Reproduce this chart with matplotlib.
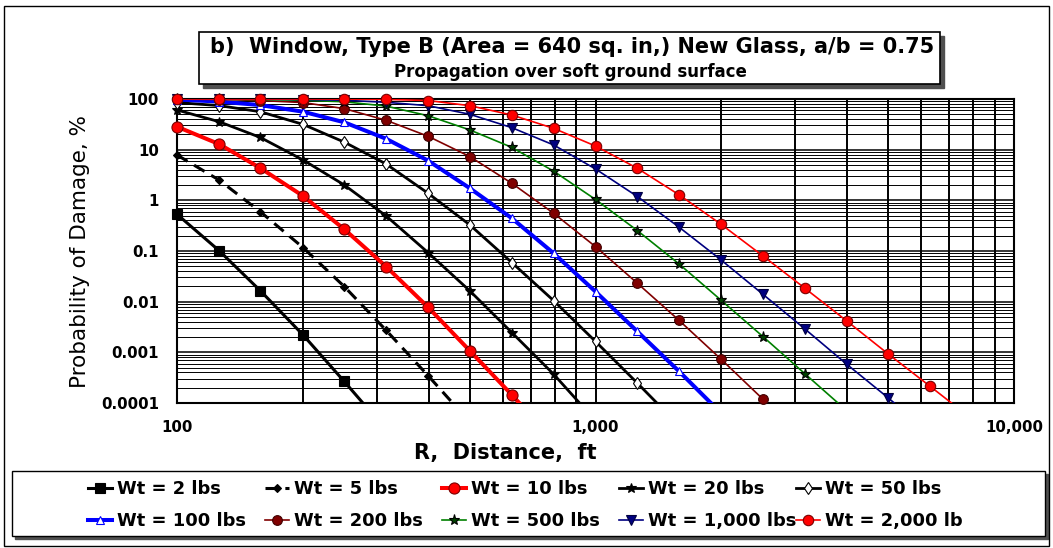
import matplotlib.pyplot as plt
from matplotlib.patches import Rectangle
from matplotlib.ticker import FixedLocator, LogLocator, NullFormatter, FixedFormatter
import numpy as np

plt.rcParams['font.family'] = ['DejaVu Sans']

# distances (ft) at which the curves are marked
dist = [100, 126, 158, 200, 251, 316, 398, 501, 631, 794, 1000,
        1259, 1585, 1995, 2512, 3162, 3981, 5012, 6310, 7943]

# probability of damage (%), one list per charge weight
p_2 = [0.531, 0.102, 0.0166, 0.00221, 0.000266, 0.0000295]
p_5 = [7.85, 2.52, 0.60, 0.117, 0.0199, 0.00272, 0.000347, 0.0000417]
p_10 = [28.4, 12.9, 4.36, 1.22, 0.269, 0.0493, 0.00778, 0.00107, 0.000145,
        0.0000182]
p_20 = [60.7, 35.7, 17.5, 6.27, 2.01, 0.492, 0.0931, 0.0163, 0.00246,
        0.000371, 0.0000447]
p_50 = [85.1, 74.1, 56.2, 31.6, 14.1, 5.22, 1.38, 0.327, 0.0592, 0.0105,
        0.00164, 0.000247, 0.0000355]
p_100 = [97.7, 89.1, 75.9, 56.2, 34.7, 16.4, 6.08, 1.73, 0.443, 0.0904,
         0.0158, 0.00258, 0.000419, 0.0000631]
p_200 = [99.5, 97.7, 93.3, 85.1, 64.6, 38.0, 18.4, 7.29, 2.17, 0.556, 0.122,
         0.0231, 0.00425, 0.000733, 0.000119, 0.0000178]
p_500 = [99.9, 99.5, 97.7, 94.4, 88.1, 72.4, 46.8, 24.5, 11.1, 3.77, 1.04,
         0.253, 0.0552, 0.0107, 0.00205, 0.00038, 0.0000708]
p_1000 = [99.9, 99.9, 99.5, 97.7, 94.4, 86.1, 73.8, 49.9, 27.2, 12.4, 4.16,
          1.19, 0.294, 0.0667, 0.014, 0.00291, 0.000585, 0.000125, 0.0000251]
p_2000 = [100, 100, 100, 100, 99.5, 98.4, 93.3, 73.8, 48.3, 26.4, 11.8, 4.29,
          1.28, 0.337, 0.08, 0.0185, 0.00418, 0.00092, 0.000212, 0.0000479]

labels = ['Wt = 2 lbs', 'Wt = 5 lbs', 'Wt = 10 lbs', 'Wt = 20 lbs', 'Wt = 50 lbs',
          'Wt = 100 lbs', 'Wt = 200 lbs', 'Wt = 500 lbs', 'Wt = 1,000 lbs',
          'Wt = 2,000 lb']
series = [p_2, p_5, p_10, p_20, p_50, p_100, p_200, p_500, p_1000, p_2000]

# color, linewidth, dashes, marker, markersize, face, edge
styles = [
    ('black', 2.2, None, 's', 7, 'black', 'black'),
    ('black', 2.2, (4, 2.5), 'D', 4.5, 'black', 'black'),
    ('#ff0000', 2.9, None, 'o', 8, '#ff0000', '#7a0000'),
    ('black', 2.0, None, '*', 7, 'black', 'black'),
    ('black', 2.0, None, 'd', 6, 'white', 'black'),
    ('#0000ff', 2.9, None, '^', 6, 'white', '#0000ff'),
    ('#800000', 1.2, None, 'o', 7, '#800000', '#400000'),
    ('#008000', 1.2, None, '*', 8, '#004000', 'black'),
    ('#000080', 1.2, None, 'v', 7, '#000080', '#000040'),
    ('#ff0000', 1.2, None, 'o', 7.5, '#ff0000', '#7a0000'),
]

fig = plt.figure(figsize=(10.53, 5.48), dpi=100)
ax = fig.add_axes([177/1053, 1-403/548, (1014-177)/1053, (403-99)/548])

ax.set_xscale('log')
ax.set_yscale('log')
ax.set_xlim(100, 10000)
ax.set_ylim(0.0001, 100)

handles = []
for p, lab, st in zip(series, labels, styles):
    col, lw, dsh, mk, ms, mfc, mec = st
    x = np.array(dist[:len(p)])
    y = np.array(p)
    ln, = ax.plot(x, y, color=col, lw=lw, zorder=3)
    if dsh is not None:
        ln.set_dashes(dsh)
    keep = y >= 0.0001
    mk_ln, = ax.plot(x[keep], y[keep], ls='none', marker=mk, ms=ms,
                     mfc=mfc, mec=mec, mew=0.8, zorder=4, clip_on=False)
    handles.append((ln, mk_ln))

# grid
ax.xaxis.set_major_locator(FixedLocator([100, 1000, 10000]))
ax.xaxis.set_major_formatter(FixedFormatter(['100', '1,000', '10,000']))
ax.xaxis.set_minor_locator(LogLocator(base=10, subs=np.arange(2, 10)))
ax.xaxis.set_minor_formatter(NullFormatter())
ax.yaxis.set_major_locator(FixedLocator([0.0001, 0.001, 0.01, 0.1, 1, 10, 100]))
ax.yaxis.set_major_formatter(FixedFormatter(['0.0001', '0.001', '0.01', '0.1',
                                             '1', '10', '100']))
ax.yaxis.set_minor_locator(LogLocator(base=10, subs=np.arange(2, 10)))
ax.yaxis.set_minor_formatter(NullFormatter())
ax.grid(True, which='both', axis='x', color='black', lw=1.4, zorder=1)
ax.grid(True, which='major', axis='y', color='black', lw=1.1, zorder=1)
ax.grid(True, which='minor', axis='y', color='black', lw=0.7, zorder=1)
ax.tick_params(which='both', length=0)
ax.tick_params(axis='x', pad=12)
ax.tick_params(axis='y', pad=13)
for t in ax.get_xticklabels() + ax.get_yticklabels():
    t.set_fontsize(10.8)
    t.set_fontweight('bold')
for s in ax.spines.values():
    s.set_linewidth(1.5)

ax.set_xlabel('R,  Distance,  ft', fontsize=15, fontweight='bold')
ax.xaxis.set_label_coords((505-177)/837, -0.13)
ax.set_ylabel('Probability of Damage, %', fontsize=15.5, labelpad=8)

# title box with shadow
fig.patches.append(Rectangle((203/1053, 1-88/548), 741/1053, 52/548,
                             transform=fig.transFigure, color='#505050', zorder=0))
fig.patches.append(Rectangle((199/1053, 1-84/548), 741/1053, 52/548,
                             transform=fig.transFigure, fc='white', ec='black',
                             lw=1.2, zorder=1))
fig.text(572/1053, 1-47/548, 'b)  Window, Type B (Area = 640 sq. in,) New Glass, a/b = 0.75',
         ha='center', va='center', fontsize=15, fontweight='bold')
fig.text(570/1053, 1-72/548, 'Propagation over soft ground surface',
         ha='center', va='center', fontsize=12, fontweight='bold')

# outer border
fig.patches.append(Rectangle((4/1053, 2/548), 1045/1053, 540/548,
                             transform=fig.transFigure, fill=False, ec='black',
                             lw=1.0))

# legend box with shadow
fig.patches.append(Rectangle((15/1053, 1-539/548), 1033/1053, 65/548,
                             transform=fig.transFigure, color='#505050', zorder=0))
fig.patches.append(Rectangle((12/1053, 1-536/548), 1033/1053, 65/548,
                             transform=fig.transFigure, fc='white', ec='black',
                             lw=1.0, zorder=1))

for i in range(5):
    fig.legend(handles=[handles[i], handles[i + 5]],
               labels=[labels[i], labels[i + 5]],
               loc='upper left', bbox_to_anchor=((88 + 177*i)/1053, 1-480/548),
               frameon=False, borderpad=0, borderaxespad=0,
               handlelength=1.35, handletextpad=0.25, labelspacing=0.8,
               prop={'size': 12.9, 'weight': 'bold'})

fig.savefig('out.png', dpi=100)
